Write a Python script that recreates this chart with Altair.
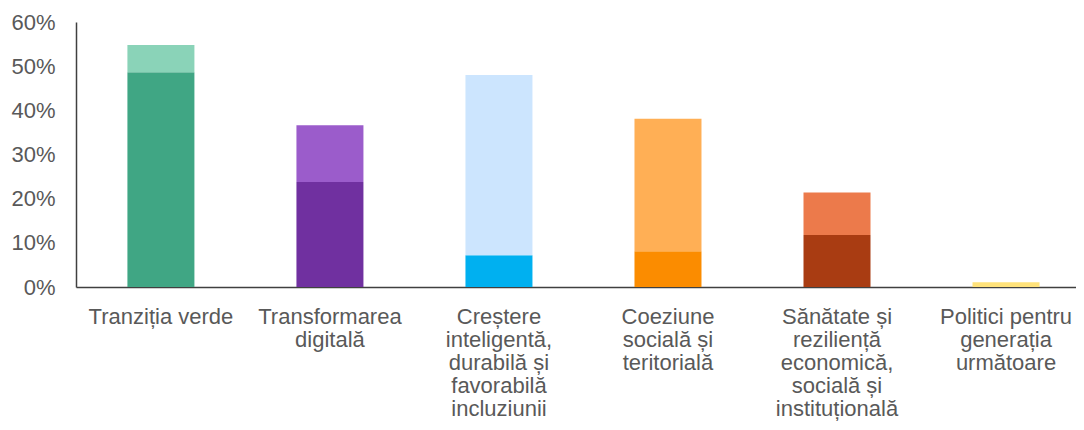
import altair as alt
import pandas as pd

categories = [
    "Tranziția verde",
    "Transformarea|digitală",
    "Creștere|inteligentă,|durabilă și|favorabilă|incluziunii",
    "Coeziune|socială și|teritorială",
    "Sănătate și|reziliență|economică,|socială și|instituțională",
    "Politici pentru|generația|următoare",
]
base_values = [0.486, 0.238, 0.072, 0.081, 0.118, 0.0]
extra_values = [0.062, 0.128, 0.408, 0.300, 0.096, 0.011]
dark_colors = ["#40A684", "#7030A0", "#00B0F0", "#FB8C00", "#A93C12", "#FFE27A"]
light_colors = ["#8AD3B8", "#9B5CCB", "#CCE5FE", "#FFAF55", "#EC7A4B", "#FFE27A"]

rows = []
keys, colors = [], []
for i, c in enumerate(categories):
    rows.append({"cat": c, "seg": "base", "ord": 0, "key": f"{i}-base", "v": base_values[i]})
    rows.append({"cat": c, "seg": "extra", "ord": 1, "key": f"{i}-extra", "v": extra_values[i]})
    keys += [f"{i}-base", f"{i}-extra"]
    colors += [dark_colors[i], light_colors[i]]
df = pd.DataFrame(rows)

FONT = "Liberation Sans"
GRAY = "#595959"
AXIS = "#404040"

chart = alt.Chart(df).mark_bar().encode(
    x=alt.X("cat:N", sort=categories, title=None,
            scale=alt.Scale(paddingInner=0.6036, paddingOuter=0.26, align=0.585),
            axis=alt.Axis(labelAngle=0, labelExpr="split(datum.label, '|')",
                          labelFontSize=22, labelColor=GRAY, labelFont=FONT,
                          labelLineHeight=23, labelPadding=19, ticks=False,
                          domainColor=AXIS, domainWidth=1.5, labelBaseline="top")),
    y=alt.Y("v:Q", stack="zero", title=None,
            scale=alt.Scale(domain=[0, 0.6], nice=False),
            axis=alt.Axis(format=".0%", values=[0, 0.1, 0.2, 0.3, 0.4, 0.5, 0.6],
                          grid=False, ticks=False, labelFontSize=22, labelColor=GRAY,
                          labelFont=FONT, labelPadding=21, domainColor=AXIS,
                          domainWidth=1.5)),
    color=alt.Color("key:N", scale=alt.Scale(domain=keys, range=colors), legend=None),
    order=alt.Order("ord:Q"),
).properties(
    width=1000, height=265,
    autosize=alt.AutoSizeParams(type="none"),
    padding={"left": 68, "top": 14, "right": 0, "bottom": 135},
).configure_view(stroke=None)

chart.save("out.html", embed_options={"renderer": "svg", "actions": False})
